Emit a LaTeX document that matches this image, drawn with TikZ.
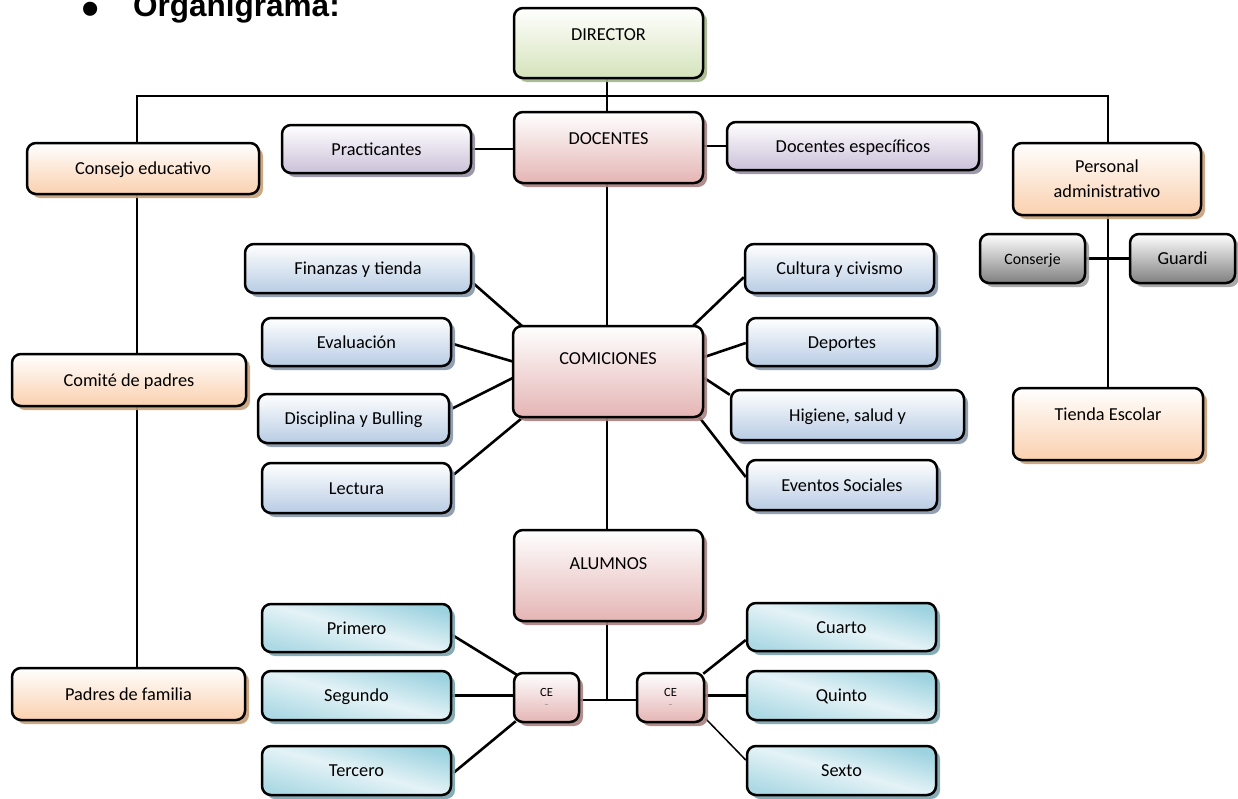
\documentclass[tikz,border=0pt]{standalone}
\usepackage{fontspec}
\setmainfont{Carlito}
\newfontfamily\arialfont{Liberation Sans}
\usetikzlibrary{shadows,calc,backgrounds}
\definecolor{grn}{HTML}{D5E3BA}
\definecolor{grnS}{HTML}{A3B589}
\definecolor{pnk}{HTML}{E4B5B4}
\definecolor{pnkS}{HTML}{A88181}
\definecolor{org}{HTML}{FAD0AE}
\definecolor{orgS}{HTML}{C89E78}
\definecolor{prp}{HTML}{CBC0D9}
\definecolor{prpS}{HTML}{948DA1}
\definecolor{blu}{HTML}{B8CCE4}
\definecolor{bluS}{HTML}{8796AA}
\definecolor{gry}{HTML}{7F7F7F}
\definecolor{gryS}{HTML}{A0A0A0}
\definecolor{tea}{HTML}{92CDDC}
\definecolor{teaS}{HTML}{7AA3AE}
\newcommand\mkbox[7]{\node[box,#6,minimum width={(#4-#2)*1pt},minimum height={(#5-#3)*1pt}] (#1) at ({(#2+#4)/2},{(#3+#5)/2}) {#7};}
\tikzset{
  box/.style={draw=black, line width=2.5pt, rounded corners=9pt, inner sep=0pt, align=center,
    font=\fontsize{18.3}{25}\selectfont, text height=12.5pt, text depth=0.5pt},
  natural/.style={text height={}, text depth={}},
  shd/.style={drop shadow={shadow xshift=4pt, shadow yshift=-4pt, fill=#1, opacity=.9}},
  greenbox/.style={top color=white, bottom color=grn, shd=grnS},
  pinkbox/.style={top color=white, bottom color=pnk, shd=pnkS},
  orangebox/.style={top color=white, bottom color=org, shd=orgS},
  purplebox/.style={top color=white, bottom color=prp, shd=prpS},
  bluebox/.style={top color=white, bottom color=blu, shd=bluS},
  graybox/.style={top color=white, bottom color=gry, shd=gryS},
  tealbox/.style={top color=tea!90, bottom color=tea!75, middle color=tea!25, shading angle=-15, shd=teaS},
  raised/.style={text height=13pt, text depth=#1},
  conn/.style={draw=black, line width=2.6pt},
  thinconn/.style={draw=black, line width=1.5pt},
  cefont/.style={font=\fontsize{12.5}{14}\selectfont}
}
\begin{document}
\begin{tikzpicture}[x=1pt,y=-1pt]
\useasboundingbox (0,0) rectangle (1238,798);
% title
\node[anchor=base, inner sep=0pt, font=\arialfont\fontsize{52}{52}\selectfont] (bul) at (91,26) {•};
\node[anchor=base west, inner sep=0pt, font=\arialfont\bfseries\fontsize{31.5}{31.5}\selectfont] (title) at (133,16) {Organigrama:};
% boxes
\mkbox{dir}{514}{8}{703}{78}{greenbox,raised=19pt}{DIRECTOR}
\mkbox{doc}{514}{112}{703}{183}{pinkbox,raised=20pt}{DOCENTES}
\mkbox{prac}{282}{125}{471}{173}{purplebox}{Practicantes}
\mkbox{desp}{727}{122}{979}{170}{purplebox}{Docentes específicos}
\mkbox{cons}{27}{143}{259}{194}{orangebox}{Consejo educativo}
\mkbox{pers}{1013}{143}{1201}{215}{orangebox,natural}{Personal\\administrativo}
\mkbox{conj}{980}{234}{1085}{283}{graybox,font=\fontsize{15.8}{18}\selectfont}{Conserje}
\mkbox{guar}{1130}{234}{1235}{283}{graybox}{Guardi}
\mkbox{tien}{1013}{388}{1203}{460}{orangebox,raised=21pt}{Tienda Escolar}
\mkbox{fin}{245}{244}{471}{293}{bluebox}{Finanzas y tienda}
\mkbox{cult}{745}{244}{934}{293}{bluebox}{Cultura y civismo}
\mkbox{eval}{262}{318}{451}{366}{bluebox}{Evaluación}
\mkbox{dep}{747}{318}{937}{366}{bluebox}{Deportes}
\mkbox{com}{513}{326}{703}{417}{pinkbox,raised=28pt}{COMICIONES}
\mkbox{disc}{258}{394}{449}{443}{bluebox}{Disciplina y Bulling}
\mkbox{hig}{731}{390}{964}{440}{bluebox}{Higiene, salud y}
\mkbox{lect}{262}{463}{451}{513}{bluebox}{Lectura}
\mkbox{ev}{747}{460}{937}{510}{bluebox}{Eventos Sociales}
\mkbox{comi}{12}{354}{246}{406}{orangebox}{Comité de padres}
\mkbox{alu}{514}{530}{703}{621}{pinkbox,raised=26pt}{ALUMNOS}
\mkbox{prim}{262}{604}{451}{652}{tealbox}{Primero}
\mkbox{cuar}{747}{603}{936}{651}{tealbox}{Cuarto}
\mkbox{seg}{262}{671}{451}{720}{tealbox}{Segundo}
\mkbox{quin}{747}{671}{936}{720}{tealbox}{Quinto}
\mkbox{ter}{262}{746}{451}{795}{tealbox}{Tercero}
\mkbox{sex}{747}{746}{936}{795}{tealbox}{Sexto}
\mkbox{ceL}{514}{673}{579}{722}{pinkbox,cefont,natural}{CE\\[-3pt]{\fontsize{9}{9}\selectfont\color{gray}–}}
\mkbox{ceR}{637}{673}{704}{722}{pinkbox,cefont,natural}{CE\\[-3pt]{\fontsize{9}{9}\selectfont\color{gray}–}}
\mkbox{pad}{12}{668}{245}{720}{orangebox}{Padres de familia}
% connectors
\begin{pgfonlayer}{background}
\coordinate (barL) at (137,96);
\coordinate (barR) at (1108,96);
\coordinate (hub) at (607,700);
\draw[conn] (dir.south -| hub) -- (hub);
\draw[conn] (barL |- pad.north) -- (barL) -- (barR) -- (barR |- tien.north);
\draw[conn] (conj.east) -- (guar.west);
\draw[conn] (prac.east) -- (prac.east -| doc.west);
\draw[conn] (desp.west) -- (desp.west -| doc.east);
\draw[conn] (ceL.east |- hub) -- (ceR.west |- hub);
\draw[conn] (seg.east) -- (seg.east -| ceL.west);
\draw[conn] (quin.west) -- (quin.west -| ceR.east);
\draw[conn] ($(fin.south east)+(1,-11)$) -- ($(com.north west)+(10,1)$);
\draw[conn] ($(eval.east)+(1,2)$) -- ($(com.west)+(1,-10)$);
\draw[conn] ($(disc.east)+(2,-10)$) -- ($(com.west)+(1,6.5)$);
\draw[conn] ($(lect.east)+(1,-13)$) -- ($(com.south west)+(10,0)$);
\draw[conn] ($(cult.south west)+(0,-17)$) -- ($(com.north east)+(-11,1)$);
\draw[conn] ($(dep.west)+(0,1)$) -- ($(com.east)+(0,-14.5)$);
\draw[conn] ($(hig.north west)+(0,6)$) -- ($(com.east)+(0,6.5)$);
\draw[conn] ($(ev.west)+(0,-8)$) -- ($(com.south east)+(-5,-1)$);
\draw[conn] ($(prim.east)+(0,7)$) -- ($(ceL.north west)+(4,3)$);
\draw[conn] ($(ter.east)+(1,2.5)$) -- ($(ceL.south west)+(3,-2)$);
\draw[conn] ($(cuar.west)+(0,13)$) -- ($(ceR.north east)+(-2,2)$);
\draw[thinconn] ($(sex.west)+(0,-10.5)$) -- ($(ceR.south east)+(0,-5)$);
\end{pgfonlayer}
\end{tikzpicture}
\end{document}
